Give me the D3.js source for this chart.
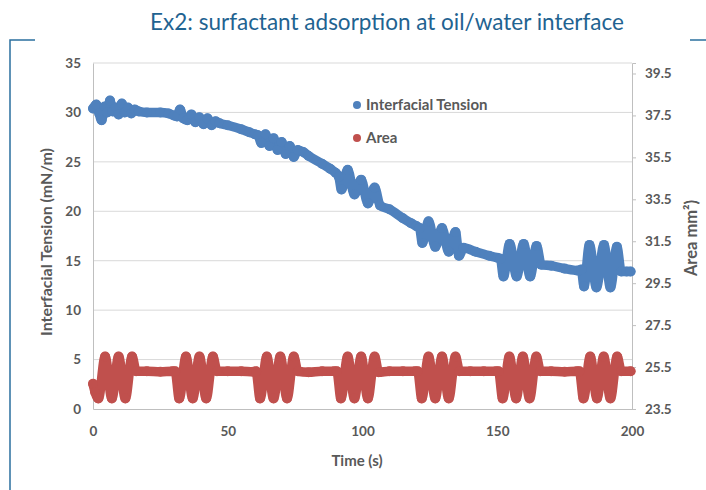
<!DOCTYPE html>
<html>
<head>
<meta charset="utf-8">
<script src="https://cdn.jsdelivr.net/npm/d3@7"></script>
<style>
  body { margin: 0; background: #fff; }
  svg { display: block; font-family: Lato, "Open Sans", sans-serif; }
  .tick text { fill: #595959; font-size: 13.5px; font-weight: bold; }
</style>
</head>
<body>
<div id="chart"></div>
<script>
// Interfacial tension (mN/m, left axis)
var tensionTime = [0, 1.2, 2.3, 3.2, 4.3, 5.3, 6.3, 7.3, 8.5, 9.5, 10.7, 11.8, 13, 14.2, 15.5, 17, 20, 25, 28, 30,
  31.2, 32.3, 33.5, 35, 36.5, 38, 39.5, 41, 42.5, 44, 45.5, 47, 50, 55, 58, 60,
  61.2, 62.5, 64, 65.5, 67, 68.5, 70, 71.5, 73, 74.5, 76, 78, 80, 85, 88, 90,
  91.2, 92.2, 94.5, 97, 99.5, 102, 104.5, 106.5, 110, 115, 118, 120,
  121.2, 122.2, 124.5, 127, 129.5, 132, 134.5, 135.8, 137.5, 142, 147, 150,
  151.2, 152.3, 154.6, 157.2, 159.8, 162.2, 164.6, 166.3, 170, 175, 180,
  181.2, 182.2, 184.2, 186.8, 189.6, 192, 194.4, 196, 198, 199.5];
var tensionValue = [30.4, 30.8, 29.9, 29.2, 30.6, 30.0, 31.2, 30.1, 30.5, 29.8, 30.9, 30.0, 30.5, 29.9, 30.3, 30.1, 30.0, 30.0, 29.9, 29.7,
  29.6, 30.3, 29.4, 29.2, 29.8, 29.0, 29.5, 28.8, 29.4, 28.7, 29.1, 28.9, 28.7, 28.3, 28.0, 27.8,
  27.7, 26.9, 27.8, 26.6, 27.4, 26.2, 27.0, 25.8, 26.6, 25.5, 26.2, 26.0, 25.6, 24.8, 24.3, 23.9,
  23.5, 22.2, 24.2, 21.7, 23.2, 20.8, 22.4, 20.6, 20.2, 19.3, 18.8, 18.5,
  18.3, 16.8, 19.0, 16.4, 18.3, 15.9, 17.9, 15.5, 16.3, 15.9, 15.5, 15.3,
  15.2, 13.4, 16.7, 13.4, 16.7, 13.4, 16.5, 14.6, 14.5, 14.2, 14.0,
  14.1, 12.4, 16.6, 12.3, 16.6, 12.3, 16.4, 13.9, 13.9, 13.9];

// Drop area (mm2, right axis)
var areaTime = [0, 0.8, 2, 4.5, 7, 9.5, 12, 14.5, 16, 20, 25, 29.5,
  30.5, 32, 34.5, 37, 39.5, 42, 44.5, 46, 50, 55, 59.5,
  60.5, 62, 64.5, 67, 69.5, 72, 74.5, 76, 80, 85, 89.5,
  90.5, 92, 94.5, 97, 99.5, 102, 104.5, 106, 110, 115, 119.5,
  120.5, 122, 124.5, 127, 129.5, 132, 134.5, 136, 140, 145, 149.5,
  150.5, 152, 154.5, 157, 159.5, 162, 164.5, 166, 170, 175, 179.5,
  180.5, 182, 184.5, 187, 189.5, 192, 194.5, 196, 199.5];
var areaValue = [24.7, 24.3, 24.0, 26.0, 24.0, 26.0, 24.0, 26.0, 25.3, 25.3, 25.28, 25.3,
  25.3, 24.0, 26.0, 24.0, 26.0, 24.0, 26.0, 25.3, 25.3, 25.3, 25.28,
  25.3, 24.0, 26.0, 24.0, 26.0, 24.0, 26.0, 25.3, 25.25, 25.3, 25.3,
  25.3, 24.0, 26.0, 24.0, 26.0, 24.0, 26.0, 25.25, 25.3, 25.3, 25.3,
  25.3, 24.0, 26.0, 24.0, 26.0, 24.0, 26.0, 25.3, 25.3, 25.3, 25.3,
  25.3, 24.0, 26.0, 24.0, 26.0, 24.0, 26.0, 25.3, 25.3, 25.28, 25.3,
  25.3, 24.0, 26.0, 24.0, 26.0, 24.0, 26.0, 25.3, 25.3];

var timeTicks = [0, 50, 100, 150, 200];
var tensionTicks = [0, 5, 10, 15, 20, 25, 30, 35];
var areaTicks = [23.5, 25.5, 27.5, 29.5, 31.5, 33.5, 35.5, 37.5, 39.5];

var width = 706, height = 490;
// plot box (window.top is taken, so no plain "top")
var plotLeft = 93, plotRight = 632, plotTop = 63, plotBottom = 409;

var svg = d3.select("#chart").append("svg")
    .attr("width", width)
    .attr("height", height);

// slide decoration
var deco = "#2a6f9e";
svg.append("path")
    .attr("d", "M10,490 V40 H35")
    .attr("fill", "none")
    .attr("stroke", deco)
    .attr("stroke-width", 1.5);
svg.append("line")
    .attr("x1", 690).attr("x2", 706).attr("y1", 40).attr("y2", 40)
    .attr("stroke", deco)
    .attr("stroke-width", 1.5);

svg.append("text")
    .attr("x", 387)
    .attr("y", 30)
    .attr("text-anchor", "middle")
    .attr("fill", "#1f6391")
    .style("font-size", "22.5px")
    .text("Ex2: surfactant adsorption at oil/water interface");

var x = d3.scaleLinear().domain([0, 200]).range([plotLeft, plotRight]);
var y = d3.scaleLinear().domain([0, 35]).range([plotBottom, plotTop]);
var y2 = d3.scaleLinear().domain([23.5, 40]).range([plotBottom, plotTop]);

// gridlines
svg.append("g")
    .selectAll("line")
    .data(tensionTicks.slice(1))
    .enter().append("line")
    .attr("x1", plotLeft).attr("x2", plotRight)
    .attr("y1", d => y(d)).attr("y2", d => y(d))
    .attr("stroke", "#d9d9d9");

// axes
var gLeft = svg.append("g")
    .attr("transform", "translate(" + plotLeft + ",0)")
    .call(d3.axisLeft(y).tickValues(tensionTicks).tickSize(0).tickPadding(12));
var gRight = svg.append("g")
    .attr("transform", "translate(" + plotRight + ",0)")
    .call(d3.axisRight(y2).tickValues(areaTicks).tickSize(4).tickPadding(9).tickFormat(d3.format(".1f")));
var gBottom = svg.append("g")
    .attr("transform", "translate(0," + plotBottom + ")")
    .call(d3.axisBottom(x).tickValues(timeTicks).tickSize(0).tickPadding(17));

[gLeft, gRight, gBottom].forEach(function (g) {
    g.select(".domain").attr("stroke", "#bfbfbf");
    g.selectAll(".tick line").attr("stroke", "#bfbfbf");
    g.selectAll(".tick text").style("font-family", "Lato, sans-serif");
});

// axis titles
svg.append("text")
    .attr("transform", "translate(52,242) rotate(-90)")
    .attr("text-anchor", "middle")
    .attr("fill", "#595959")
    .style("font-size", "16px")
    .style("font-weight", "bold")
    .text("Interfacial Tension (mN/m)");

svg.append("text")
    .attr("transform", "translate(697,238) rotate(-90)")
    .attr("text-anchor", "middle")
    .attr("fill", "#595959")
    .style("font-size", "16.5px")
    .style("font-weight", "bold")
    .text("Area mm\u00b2)");

svg.append("text")
    .attr("x", 357)
    .attr("y", 466)
    .attr("text-anchor", "middle")
    .attr("fill", "#595959")
    .style("font-size", "15px")
    .style("font-weight", "bold")
    .text("Time (s)");

// series
var tensionData = tensionTime.map((t, i) => ({ t: t, v: tensionValue[i] }));
var areaData = areaTime.map((t, i) => ({ t: t, v: areaValue[i] }));

var drawSeries = function (data, yScale, color) {
    var line = d3.line()
        .x(d => x(d.t))
        .y(d => yScale(d.v))
        .curve(d3.curveMonotoneX);
    svg.append("path")
        .datum(data)
        .attr("d", line)
        .attr("fill", "none")
        .attr("stroke", color)
        .attr("stroke-width", 9.5)
        .attr("stroke-linejoin", "round")
        .attr("stroke-linecap", "round");
    svg.append("g")
        .selectAll("circle")
        .data(data)
        .enter().append("circle")
        .attr("cx", d => x(d.t))
        .attr("cy", d => yScale(d.v))
        .attr("r", 5)
        .attr("fill", color);
};

drawSeries(areaData, y2, "#c0504d");
drawSeries(tensionData, y, "#4f81bd");

// legend
var legendItems = [
    { name: "Interfacial Tension", color: "#4f81bd", y: 105 },
    { name: "Area", color: "#c0504d", y: 138 }
];
var legend = svg.append("g");
legend.selectAll("circle")
    .data(legendItems)
    .enter().append("circle")
    .attr("cx", 357)
    .attr("cy", d => d.y)
    .attr("r", 4)
    .attr("fill", d => d.color);
legend.selectAll("text")
    .data(legendItems)
    .enter().append("text")
    .attr("x", 366)
    .attr("y", d => d.y + 5)
    .attr("fill", "#595959")
    .style("font-size", "15px")
    .style("font-weight", "bold")
    .text(d => d.name);
</script>
</body>
</html>
